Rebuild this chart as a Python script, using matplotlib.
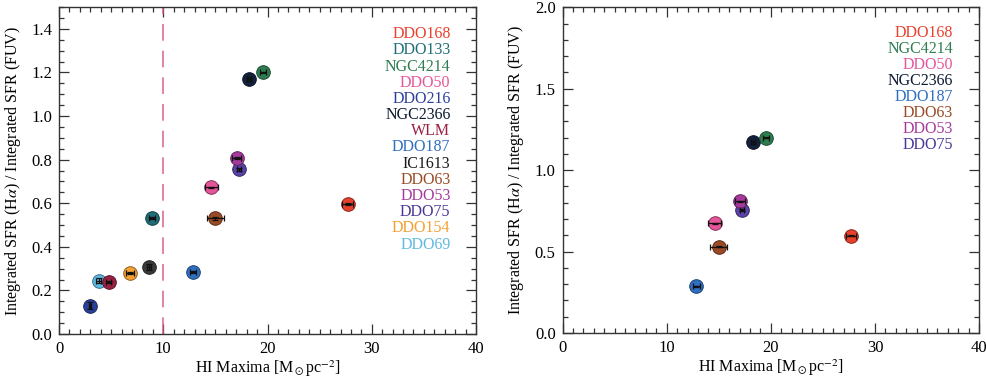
import numpy as np
import matplotlib.pyplot as plt
from matplotlib.ticker import MultipleLocator

plt.rcParams['font.family'] = ['Liberation Serif', 'DejaVu Serif']
plt.rcParams['mathtext.fontset'] = 'stix'

# galaxy sample: HI maxima vs Halpha/FUV SFR ratio
names = ['DDO168', 'DDO133', 'NGC4214', 'DDO50', 'DDO216', 'NGC2366', 'WLM',
         'DDO187', 'IC1613', 'DDO63', 'DDO53', 'DDO75', 'DDO154', 'DDO69']
hi_max = [27.69, 8.95, 19.54, 14.61, 2.97, 18.26, 4.77,
          12.85, 8.63, 15.00, 17.04, 17.23, 6.81, 3.80]
ratio = [0.598, 0.532, 1.200, 0.673, 0.130, 1.171, 0.239,
         0.286, 0.307, 0.531, 0.809, 0.755, 0.281, 0.245]
hi_err = [0.5, 0.3, 0.3, 0.65, 0.08, 0.2, 0.25,
          0.3, 0.15, 0.8, 0.45, 0.2, 0.4, 0.25]
ratio_err = [0.004, 0.004, 0.004, 0.003, 0.016, 0.008, 0.006,
             0.004, 0.012, 0.006, 0.004, 0.006, 0.004, 0.012]
colors = ['#e8402c', '#1f6e78', '#2e7d50', '#e4559a', '#2b3f9c', '#13213d', '#9a2040',
          '#2f6fc0', '#3a3a3a', '#9a4a26', '#a53a9c', '#5a42a8', '#f4a032', '#5fb9e2']
text_colors = ['#e8402c', '#1f6e78', '#2e7d50', '#e4559a', '#2b3f9c', '#0d1a30', '#9a2040',
               '#2f6fc0', '#1a1a1a', '#9a4a26', '#a53a9c', '#4a3598', '#f4a032', '#5fb9e2']

# galaxies kept in the right-hand panel
subset = ['DDO168', 'NGC4214', 'DDO50', 'NGC2366', 'DDO187', 'DDO63', 'DDO53', 'DDO75']


def darken(c, f=0.6):
    r, g, b = [int(c[i:i + 2], 16) / 255 for i in (1, 3, 5)]
    return (r * f, g * f, b * f)


def panel(ax, keep, ymax, ymajor, yminor, tx, ty, dy):
    idx = [i for i, n in enumerate(names) if n in keep]
    for i in idx[::-1]:
        ax.plot(hi_max[i], ratio[i], 'o', ms=9.8, color=colors[i],
                mec=darken(colors[i]), mew=0.7, zorder=3)
        ax.errorbar(hi_max[i], ratio[i], xerr=hi_err[i], yerr=ratio_err[i],
                    fmt='none', ecolor='#111111', elinewidth=0.9, capsize=2.0,
                    capthick=0.9, zorder=4)
    for k, i in enumerate(idx):
        ax.text(tx, ty - k * dy, names[i], color=text_colors[i], fontsize=11.5,
                ha='right', va='center', transform=ax.transAxes)
    ax.set_xlim(0, 40)
    ax.set_ylim(0, ymax)
    ax.xaxis.set_major_locator(MultipleLocator(10))
    ax.xaxis.set_minor_locator(MultipleLocator(1))
    ax.yaxis.set_major_locator(MultipleLocator(ymajor))
    ax.yaxis.set_minor_locator(MultipleLocator(yminor))
    ax.yaxis.set_major_formatter(plt.FormatStrFormatter('%.1f'))
    ax.tick_params(which='both', direction='in', top=True, right=True,
                   labelsize=12, color='#333333', width=0.9)
    ax.tick_params(which='major', length=7, pad=5)
    ax.tick_params(which='minor', length=3.5)
    for s in ax.spines.values():
        s.set_color('#333333')
        s.set_linewidth(1.0)
    ax.set_xlabel(r'HI Maxima [M$_\odot$pc$^{-2}$]', fontsize=11.5, labelpad=1)
    ax.set_ylabel(r'Integrated SFR (H$\alpha$) / Integrated SFR (FUV)', fontsize=11.5, labelpad=6)


fig = plt.figure(figsize=(9.87, 3.81), dpi=100)
ax1 = fig.add_axes([0.0598, 0.1234, 0.4225, 0.858])
ax2 = fig.add_axes([0.570, 0.126, 0.422, 0.855])

panel(ax1, names, 1.5, 0.2, 0.05, 0.939, 0.917, 0.0495)
# hand-drawn cut at 10 Msun/pc^2
ax1.axvline(10, color='#d8557e', lw=1.2, alpha=0.85, ls=(0, (10, 6)), zorder=2)

panel(ax2, subset, 2.0, 0.5, 0.1, 0.9376, 0.920, 0.049)

fig.savefig('out.png', dpi=100)
